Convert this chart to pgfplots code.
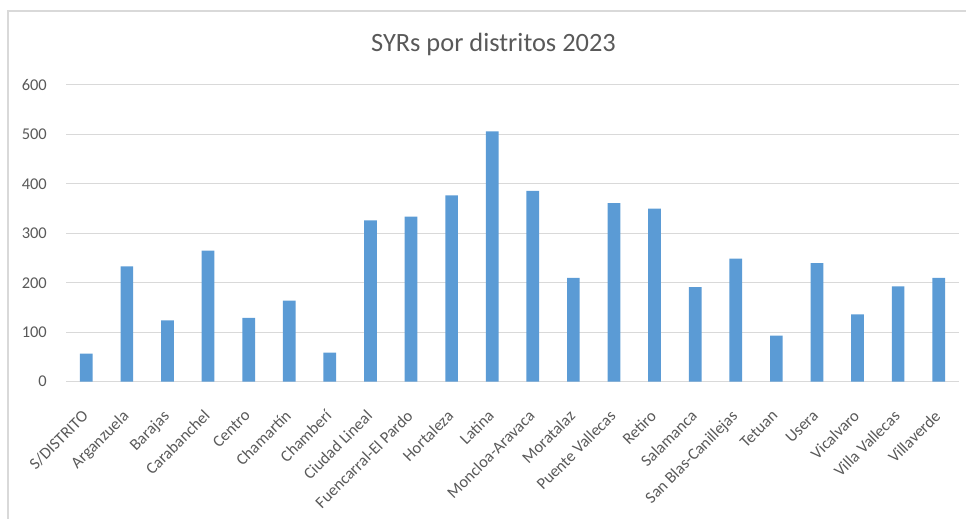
\documentclass[border=0pt]{standalone}
\usepackage{fontspec}
\setmainfont{Carlito}
\usepackage{pgfplots}
\pgfplotsset{compat=1.18}
\definecolor{barblue}{HTML}{5B9BD5}
\definecolor{gridgray}{HTML}{D9D9D9}
\definecolor{txtgray}{HTML}{595959}
\begin{document}
\begin{tikzpicture}[x=1bp,y=1bp]
\useasboundingbox (0,0) rectangle (966,519);
\draw[gridgray, line width=1.5bp] (8,0) -- (8,508) -- (966,508);
\node[txtgray, font=\fontsize{26.5}{30}\selectfont, anchor=base, inner sep=0pt] at (493.5,467) {SYRs por distritos 2023};
\begin{axis}[
  at={(66bp,137.3bp)}, anchor=south west,
  scale only axis, width=893bp, height=296.7bp,
  xmin=-0.5, xmax=21.5, ymin=0, ymax=600,
  ytick={0,100,...,600},
  xtick={0,...,21},
  xticklabels={S/DISTRITO,Arganzuela,Barajas,Carabanchel,Centro,Chamartín,Chamberí,Ciudad Lineal,Fuencarral-El Pardo,Hortaleza,Latina,Moncloa-Aravaca,Moratalaz,Puente Vallecas,Retiro,Salamanca,San Blas-Canillejas,Tetuan,Usera,Vicalvaro,Villa Vallecas,Villaverde},
  ymajorgrids, grid style={gridgray, line width=1bp},
  axis line style={draw=none},
  major tick length=0pt,
  /pgf/number format/assume math mode=true,
  tick label style={txtgray},
  yticklabel style={font=\fontsize{16.5}{19}\selectfont, anchor=east, inner sep=0pt, xshift=-19bp},
  xticklabel style={font=\fontsize{16.5}{19}\selectfont, rotate=45, anchor=north east, inner sep=0pt, xshift=-23bp, yshift=-15.5bp},
  ybar, bar width=12.7bp,
]
\addplot[fill=barblue, draw=none] coordinates {
(0,57) (1,233) (2,124) (3,265) (4,129) (5,164) (6,59) (7,326) (8,334) (9,377) (10,506)
(11,386) (12,210) (13,361) (14,350) (15,191) (16,249) (17,93) (18,240) (19,136) (20,193) (21,210)
};
\end{axis}
\end{tikzpicture}
\end{document}
